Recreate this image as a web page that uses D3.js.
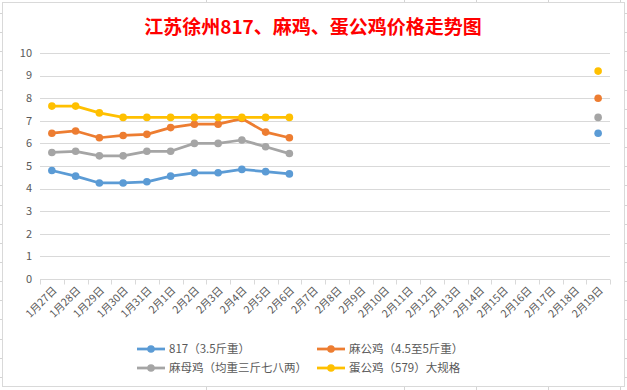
<!DOCTYPE html>
<html>
<head>
<meta charset="utf-8">
<script src="https://cdn.jsdelivr.net/npm/d3@7"></script>
<style>
  html, body { margin: 0; padding: 0; background: #fff; }
  svg { display: block; font-family: "Noto Sans CJK SC", "Noto Sans", sans-serif; }
</style>
</head>
<body>
<div id="chart"></div>
<script>
// dates on the x axis
const dates = ["1月27日","1月28日","1月29日","1月30日","1月31日","2月1日","2月2日","2月3日",
  "2月4日","2月5日","2月6日","2月7日","2月8日","2月9日","2月10日","2月11日","2月12日",
  "2月13日","2月14日","2月15日","2月16日","2月17日","2月18日","2月19日"];

const yTicks = [0,1,2,3,4,5,6,7,8,9,10];

// prices, null where nothing was recorded
const s817   = [4.8,4.55,4.25,4.25,4.3,4.55,4.7,4.7,4.85,4.75,4.65, null,null,null,null,null,null,null,null,null,null,null,null, 6.45];
const sMaGong = [6.45,6.55,6.25,6.35,6.4,6.7,6.85,6.85,7.1,6.5,6.25, null,null,null,null,null,null,null,null,null,null,null,null, 8.0];
const sMaMu  = [5.6,5.65,5.45,5.45,5.65,5.65,6.0,6.0,6.15,5.85,5.55, null,null,null,null,null,null,null,null,null,null,null,null, 7.15];
const sDan   = [7.65,7.65,7.35,7.15,7.15,7.15,7.15,7.15,7.15,7.15,7.15, null,null,null,null,null,null,null,null,null,null,null,null, 9.2];

const seriesNames = ["817（3.5斤重）","麻公鸡（4.5至5斤重）","麻母鸡（均重三斤七八两）","蛋公鸡（579）大规格"];
const seriesColors = ["#5B9BD5","#ED7D31","#A5A5A5","#FFC000"];
const seriesValues = [s817, sMaGong, sMaMu, sDan];

const width = 627, height = 390;
const margin = {top: 53, left: 40, right: 17, bottom: 111};

const svg = d3.select("#chart").append("svg")
  .attr("width", width)
  .attr("height", height);

// faint spreadsheet cell lines peeking around the chart
const cellRows = d3.range(13, height, 19.15);
svg.append("g").selectAll("line.rl").data(cellRows).enter().append("line")
  .attr("x1", 0).attr("x2", 3).attr("y1", d => Math.round(d) + 0.5).attr("y2", d => Math.round(d) + 0.5)
  .attr("stroke", "#d4d4d4");
svg.append("g").selectAll("line.rr").data(cellRows).enter().append("line")
  .attr("x1", 624).attr("x2", 627).attr("y1", d => Math.round(d) + 0.5).attr("y2", d => Math.round(d) + 0.5)
  .attr("stroke", "#d4d4d4");
const cellCols = [206, 404, 476, 548, 620];
cellCols.forEach(c => {
  svg.append("line").attr("x1", c + 0.5).attr("x2", c + 0.5).attr("y1", 0).attr("y2", 3).attr("stroke", "#d4d4d4");
  svg.append("line").attr("x1", c + 0.5).attr("x2", c + 0.5).attr("y1", 387).attr("y2", 390).attr("stroke", "#d4d4d4");
});

// chart frame
svg.append("rect")
  .attr("x", 2.5).attr("y", 2.5)
  .attr("width", 622).attr("height", 384)
  .attr("fill", "#fff")
  .attr("stroke", "#d9d9d9");

// title
svg.append("text")
  .attr("x", 313).attr("y", 34)
  .attr("text-anchor", "middle")
  .attr("fill", "#ff0000")
  .attr("font-size", 19)
  .attr("font-weight", "bold")
  .text("江苏徐州817、麻鸡、蛋公鸡价格走势图");

const x = d3.scaleBand()
  .domain(dates)
  .range([margin.left, width - margin.right])
  .padding(0);

const y = d3.scaleLinear()
  .domain([0, 10])
  .range([height - margin.bottom, margin.top]);

// gridlines
svg.append("g").selectAll("line").data(yTicks).enter().append("line")
  .attr("x1", margin.left).attr("x2", width - margin.right)
  .attr("y1", d => Math.round(y(d)) + 0.5).attr("y2", d => Math.round(y(d)) + 0.5)
  .attr("stroke", "#d9d9d9");

// y labels
svg.append("g").selectAll("text").data(yTicks).enter().append("text")
  .attr("x", 32).attr("y", d => y(d))
  .attr("dy", "0.35em")
  .attr("text-anchor", "end")
  .attr("fill", "#595959")
  .attr("font-size", 11)
  .text(d => d);

// x axis with ticks at the category borders
const y0 = Math.round(y(0)) + 0.5;
const borders = dates.map(d => x(d)).concat([width - margin.right]);
svg.append("g").selectAll("line").data(borders).enter().append("line")
  .attr("x1", d => Math.round(d) + 0.5).attr("x2", d => Math.round(d) + 0.5)
  .attr("y1", y0).attr("y2", y0 + 5)
  .attr("stroke", "#d9d9d9");

svg.append("g").selectAll("text").data(dates).enter().append("text")
  .attr("transform", d => "translate(" + (x(d) + x.bandwidth() / 2 + 3) + "," + (y0 + 9) + ") rotate(-45)")
  .attr("text-anchor", "end")
  .attr("dy", "0.35em")
  .attr("fill", "#595959")
  .attr("font-size", 10.5)
  .text(d => d);

// series
const line = d3.line()
  .defined(d => d.v !== null)
  .x(d => x(d.date) + x.bandwidth() / 2)
  .y(d => y(d.v));

seriesValues.forEach((vals, i) => {
  const pts = vals.map((v, j) => ({date: dates[j], v: v}));
  svg.append("path")
    .datum(pts)
    .attr("fill", "none")
    .attr("stroke", seriesColors[i])
    .attr("stroke-width", 2.75)
    .attr("stroke-linejoin", "round")
    .attr("d", line);
  svg.append("g").selectAll("circle")
    .data(pts.filter(p => p.v !== null))
    .enter().append("circle")
    .attr("cx", d => x(d.date) + x.bandwidth() / 2)
    .attr("cy", d => y(d.v))
    .attr("r", 3.8)
    .attr("fill", seriesColors[i]);
});

// legend, two columns
const legendPos = [[137, 349], [317, 349], [137, 368], [317, 368]];
seriesNames.forEach((name, i) => {
  const g = svg.append("g").attr("transform", "translate(" + legendPos[i][0] + "," + legendPos[i][1] + ")");
  g.append("line").attr("x1", 0).attr("x2", 28).attr("y1", 0).attr("y2", 0)
    .attr("stroke", seriesColors[i]).attr("stroke-width", 2.75);
  g.append("circle").attr("cx", 14).attr("cy", 0).attr("r", 3.8).attr("fill", seriesColors[i]);
  g.append("text").attr("x", 32).attr("y", 0).attr("dy", "0.35em")
    .attr("fill", "#595959").attr("font-size", 11.5)
    .text(name);
});
</script>
</body>
</html>
